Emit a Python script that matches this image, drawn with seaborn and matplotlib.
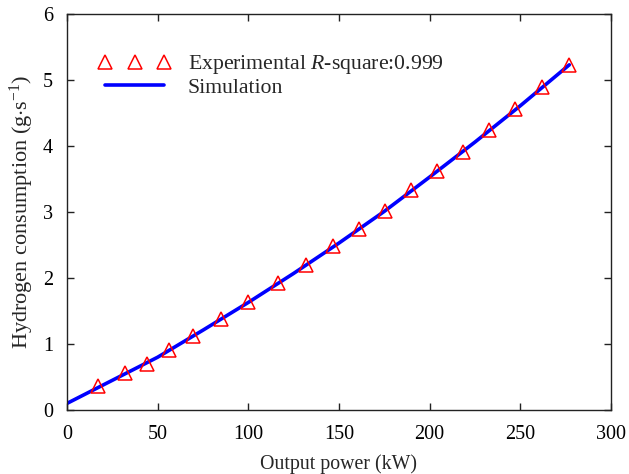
import numpy as np
import pandas as pd
import seaborn as sns
import matplotlib
matplotlib.use("Agg")
import matplotlib.pyplot as plt

# Experimental data
exp_power = [17.1, 32.0, 44.1, 56.3, 69.5, 84.9, 99.8, 116.4, 131.8, 146.7,
             161.1, 175.4, 189.7, 204.1, 218.4, 232.8, 247.1, 262.0, 276.9]
exp_h2 = [0.36, 0.56, 0.70, 0.91, 1.12, 1.38, 1.64, 1.92, 2.20, 2.48,
          2.74, 3.02, 3.33, 3.62, 3.91, 4.24, 4.56, 4.89, 5.23]

# Simulation curve
sim_power = [0, 25, 50, 75, 100, 125, 150, 175, 200, 225, 250, 277]
sim_h2 = [0.10, 0.45, 0.80, 1.21, 1.63, 2.07, 2.53, 3.01, 3.53, 4.06, 4.61, 5.23]

xticks = [0, 50, 100, 150, 200, 250, 300]
yticks = [0, 1, 2, 3, 4, 5, 6]

sns.set_theme(style="white")
plt.rcParams['font.family'] = ['Liberation Serif', 'DejaVu Serif']
plt.rcParams['mathtext.fontset'] = 'custom'
plt.rcParams['mathtext.rm'] = 'Liberation Serif'
plt.rcParams['mathtext.it'] = 'Liberation Serif:italic'
TICK_FS = 14.5
XLAB_FS = 14.3
YLAB_FS = 16
LEG_FS = 15.7

fig = plt.figure(figsize=(6.29, 4.74), dpi=100)
ax = fig.add_axes([67/629, 1 - 410/474, (611-67)/629, (410-14)/474])

df_exp = pd.DataFrame({"P": exp_power, "H": exp_h2})
df_sim = pd.DataFrame({"P": sim_power, "H": sim_h2})

sns.lineplot(data=df_sim, x="P", y="H", ax=ax, color="#0000ff", lw=2.6,
             label="Simulation", zorder=2, estimator=None, sort=True)
sns.lineplot(data=df_exp, x="P", y="H", ax=ax, color="red", linestyle="",
             marker="^", markersize=10, markerfacecolor="none",
             markeredgecolor="red", markeredgewidth=1.1,
             label="Experimental $\\it{R}$-square:0.999", zorder=3,
             estimator=None)

ax.set_xlim(0, 300)
ax.set_ylim(0, 6)
ax.set_xticks(xticks)
ax.set_yticks(yticks)
ax.set_xticklabels([str(t) for t in xticks], fontsize=TICK_FS)
ax.set_yticklabels([str(t) for t in yticks], fontsize=TICK_FS)
ax.set_xlabel("Output power (kW)", fontsize=XLAB_FS, labelpad=7)
ax.set_ylabel("Hydrogen consumption (g$\\cdot$s$^{-1}$)", fontsize=YLAB_FS, labelpad=5)

for s in ax.spines.values():
    s.set_visible(True)
    s.set_color("#222222")
    s.set_linewidth(1.0)
ax.tick_params(direction="in", length=5, width=1, top=True, right=True,
               bottom=True, left=True, colors="#222222", labelcolor="black")
ax.tick_params(axis="x", pad=11)
ax.tick_params(axis="y", pad=10)

handles, labels = ax.get_legend_handles_labels()
leg = ax.legend(handles[::-1], labels[::-1], loc="upper left", frameon=False,
                numpoints=3, fontsize=LEG_FS, handlelength=3.3, handletextpad=0.8,
                labelspacing=0.05, bbox_to_anchor=(0.022, 0.95))

fig.savefig("out.png", dpi=100)
